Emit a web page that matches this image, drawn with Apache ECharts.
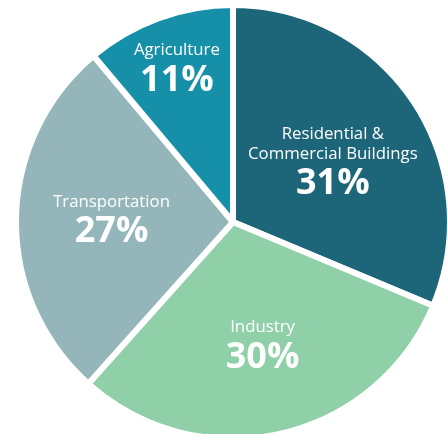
<!DOCTYPE html>
<html>
<head>
<meta charset="utf-8">
<script src="https://cdn.jsdelivr.net/npm/echarts@6/dist/echarts.min.js"></script>
<style>
html,body{margin:0;padding:0;background:#fff;}
#chart{width:447px;height:434px;}
</style>
</head>
<body>
<div id="chart"></div>
<script>
const categories = ["Residential &\nCommercial Buildings", "Industry", "Transportation", "Agriculture"];
const values = [31, 30, 27, 11];
const colors = ["#1d6679", "#8fd0a9", "#94b6ba", "#1590a8"];
const labelShift = [[7, 4], [5, 17], [-10, 2], [-18, -46]];

const chart = echarts.init(document.getElementById('chart'), null, {renderer: 'canvas'});
const data = categories.map((c, i) => ({
  name: c,
  value: values[i],
  itemStyle: {color: colors[i]}
}));

chart.setOption({
  animation: false,
  backgroundColor: '#ffffff',
  series: [{
    type: 'pie',
    center: [233, 222],
    radius: [0, 217],
    startAngle: 90,
    clockwise: true,
    silent: true,
    data: data,
    itemStyle: {borderColor: '#ffffff', borderWidth: 6},
    labelLine: {show: false},
    label: {
      show: true,
      position: 'inside',
      color: '#ffffff',
      formatter: p => p.name.split('\n').map(s => '{a|' + s + '}').join('\n') + '\n{b|' + p.value + '%}',
      rich: {
        a: {fontFamily: 'Open Sans', fontSize: 16.8, lineHeight: 20, color: '#ffffff', align: 'center'},
        b: {fontFamily: 'Open Sans', fontSize: 36, fontWeight: 'bold', lineHeight: 41, color: '#ffffff', align: 'center'}
      }
    },
    labelLayout: p => ({dx: labelShift[p.dataIndex][0], dy: labelShift[p.dataIndex][1]})
  }]
});
</script>
</body>
</html>
